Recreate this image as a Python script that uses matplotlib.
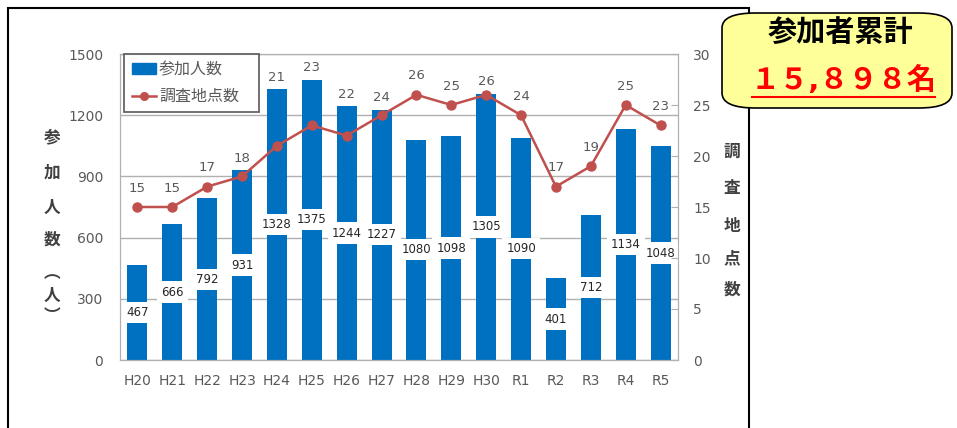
import matplotlib
matplotlib.use("Agg")
import matplotlib.pyplot as plt
from matplotlib.patches import FancyBboxPatch, Rectangle
from matplotlib.lines import Line2D

plt.rcParams["font.family"] = ["DejaVu Sans", "Noto Sans CJK JP"]

years = ["H20", "H21", "H22", "H23", "H24", "H25", "H26", "H27", "H28",
         "H29", "H30", "R1", "R2", "R3", "R4", "R5"]
participants = [467, 666, 792, 931, 1328, 1375, 1244, 1227, 1080,
                1098, 1305, 1090, 401, 712, 1134, 1048]
sites = [15, 15, 17, 18, 21, 23, 22, 24, 26, 25, 26, 24, 17, 19, 25, 23]

BAR = "#0070C0"
LINE = "#C0504D"
GRAY = "#595959"
DARK = "#404040"

W, H = 957, 428
fig = plt.figure(figsize=(W / 100, H / 100), dpi=100)

# outer frame (bottom edge is cut off in the original)
fig.add_artist(Rectangle((8 / W, -0.1), 741 / W, 1.1 - 8 / H, transform=fig.transFigure,
                         fill=False, edgecolor="black", linewidth=1.5))

ax = fig.add_axes([120 / W, 68 / H, 558 / W, 306 / H])
x = list(range(len(years)))
ax.bar(x, participants, width=0.57, color=BAR, zorder=2)
ax.set_ylim(0, 1500)
ax.set_yticks(range(0, 1501, 300))
ax.set_xlim(-0.5, len(years) - 0.5)
ax.set_xticks(x)
ax.set_xticklabels(years)
ax.grid(axis="y", color="#B0B0B0", linewidth=1, zorder=0)
ax.tick_params(axis="y", length=0, labelsize=10, labelcolor=GRAY, pad=12)
ax.tick_params(axis="x", length=0, labelsize=10, labelcolor=GRAY, pad=10)
for s in ax.spines.values():
    s.set_color("#B0B0B0")

for i, v in enumerate(participants):
    ax.text(i, v / 2, str(v), ha="center", va="center", fontsize=8.5, zorder=4,
            color="#262626",
            bbox=dict(boxstyle="square,pad=0.35", facecolor="white", edgecolor="none"))

ax2 = ax.twinx()
ax2.plot(x, sites, color=LINE, linewidth=1.8, marker="o", markersize=6.5, zorder=3)
ax2.set_ylim(0, 30)
ax2.set_yticks(range(0, 31, 5))
ax2.tick_params(axis="y", direction="in", length=5, color="#B0B0B0",
                labelsize=10, labelcolor=GRAY, pad=11)
for s in ax2.spines.values():
    s.set_color("#B0B0B0")

# point labels: above the marker, or lifted above the bar when the bar is taller
scale = 1500 / 30
for i, (v, p) in enumerate(zip(sites, participants)):
    if p / scale > v:
        anchor, off = p / scale, 12
    else:
        anchor, off = v, 19
    ax2.annotate(str(v), (i, anchor), xytext=(0, off), textcoords="offset pixels",
                 ha="center", va="center", fontsize=9.5, color=GRAY)

handles = [Rectangle((0, 0), 1, 1, color=BAR),
           Line2D([], [], color=LINE, marker="o", markersize=5.5, linewidth=1.8)]
leg = ax2.legend(handles, ["参加人数", "調査地点数"], loc="upper left",
                 bbox_to_anchor=(0.007, 0.8, 0.242, 0.2), mode="expand",
                 fontsize=11.5, frameon=True, fancybox=False,
                 handlelength=1.5, handleheight=0.6, borderpad=0.5,
                 labelspacing=0.75, handletextpad=0.2, borderaxespad=0)
leg.get_frame().set_edgecolor(DARK)
leg.get_frame().set_linewidth(1.3)
for t in leg.get_texts():
    t.set_color(GRAY)

# vertical axis titles, one character per line
left_label = ["参", "加", "人", "数", "︵", "人", "︶"]
left_y = [137, 173, 208, 240, 273, 296, 316]
for ch, yy in zip(left_label, left_y):
    fig.text(52 / W, 1 - yy / H, ch, ha="center", va="center",
             fontsize=12, fontweight="bold", color=DARK)
right_label = ["調", "査", "地", "点", "数"]
right_y = [152, 188, 226, 258, 290]
for ch, yy in zip(right_label, right_y):
    fig.text(732 / W, 1 - yy / H, ch, ha="center", va="center",
             fontsize=12, fontweight="bold", color=DARK)

# cumulative total box
box = FancyBboxPatch((722 / W, 320 / H), 230 / W, 95 / H, transform=fig.transFigure,
                     boxstyle="round,pad=0,rounding_size=0.035", facecolor="#FFFF99",
                     edgecolor="black", linewidth=1.2)
fig.add_artist(box)
fig.text(840 / W, 1 - 33 / H, "参加者累計", ha="center", va="center",
         fontsize=21, fontweight="bold", color="black")
fig.text(843 / W, 1 - 80 / H, "１５,８９８名", ha="center", va="center",
         fontsize=21, fontweight="bold", color="#FF0000")
fig.add_artist(Line2D([752 / W, 935 / W], [1 - 97 / H, 1 - 97 / H],
                      transform=fig.transFigure, color="#FF0000", linewidth=1.5))

fig.savefig("out.png", dpi=100)
